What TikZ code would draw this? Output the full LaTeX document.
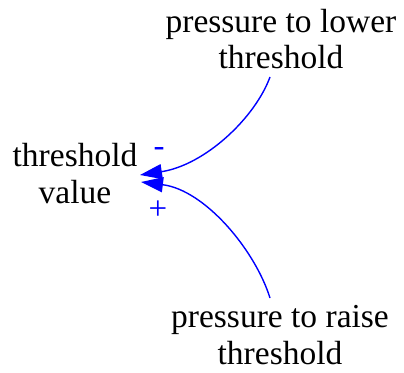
\documentclass[tikz,border=0pt]{standalone}
\usepackage{fontspec}
\setmainfont{Liberation Serif}
\usetikzlibrary{arrows.meta}
\begin{document}
\begin{tikzpicture}[x=1pt,y=1pt,
  lbl/.style={font=\fontsize{33.5}{36.5}\selectfont, align=center, inner sep=0pt},
  link/.style={blue, line width=1.4pt, -{Triangle[length=22pt,width=15pt]}},
  sgn/.style={text=blue, font=\fontsize{33}{36}\selectfont, inner sep=0pt}]
\useasboundingbox (0,0) rectangle (404,372);
\node[lbl] (tv) at (75,198.5) {threshold\\value};
\node[lbl] (ptl) at (281,333) {pressure to lower\\threshold};
\node[lbl] (ptr) at (280,37) {pressure to raise\\threshold};
\coordinate (s1) at (270,295);
\coordinate (e1) at (140,197);
\coordinate (s2) at (270,74);
\coordinate (e2) at (141,190);
\draw[link] (s1) .. controls (255,254) and (205,207) .. (e1);
\draw[link] (s2) .. controls (255,122) and (205,182) .. (e2);
\node[sgn] (minus) at (159,220) {-};
\node[sgn] (plus) at (158,162) {+};
\end{tikzpicture}
\end{document}
